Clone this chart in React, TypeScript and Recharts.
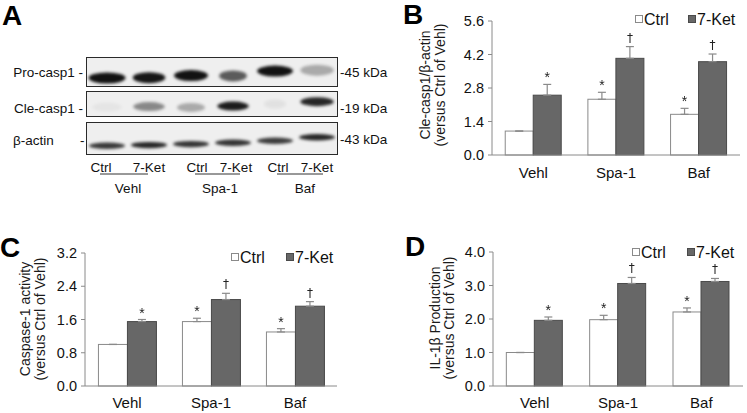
import React from 'react';
import { BarChart, Bar, XAxis, YAxis, ErrorBar } from 'recharts';

const FONT = '"Liberation Sans", Arial, Helvetica, sans-serif';
const MARK_FONT = '"DejaVu Sans", "Liberation Sans", sans-serif';
const AXIS = '#8a8a8a';
const CTRL_FILL = '#ffffff';
const CTRL_STROKE = '#8a8a8a';
const KET_FILL = '#676767';
const KET_STROKE = '#4a4a4a';

const groups = ['Vehl', 'Spa-1', 'Baf'];
const ctrlMarks = ['', '*', '*'];
const ketMarks = ['*', '†', '†'];

// B: Cle-casp1 / beta-actin
const bCtrl = [1.0, 2.33, 1.7];
const bCtrlErr = [0, 0.29, 0.25];
const bKet = [2.5, 4.04, 3.9];
const bKetErr = [0.45, 0.49, 0.32];
const bTicks = [0, 1.4, 2.8, 4.2, 5.6];

// C: caspase-1 activity
const cCtrl = [1.0, 1.55, 1.3];
const cCtrlErr = [0, 0.08, 0.08];
const cKet = [1.55, 2.08, 1.92];
const cKetErr = [0.05, 0.15, 0.11];
const cTicks = [0, 0.8, 1.6, 2.4, 3.2];

// D: IL-1beta production
const dCtrl = [1.0, 1.98, 2.21];
const dCtrlErr = [0, 0.13, 0.12];
const dKet = [1.96, 3.06, 3.12];
const dKetErr = [0.1, 0.18, 0.09];
const dTicks = [0, 1, 2, 3, 4];

// A: western blot lanes (level = band darkness, pos = band height within strip)
const lanes = ['Ctrl', '7-Ket', 'Ctrl', '7-Ket', 'Ctrl', '7-Ket'];
const proLevel = [0.97, 0.95, 0.97, 0.65, 0.97, 0.3];
const proPos = [0.3, 0.31, 0.38, 0.37, 0.53, 0.56];
const proSpread = [1.0, 0.88, 0.92, 0.75, 0.97, 0.9];
const cleLevel = [0.04, 0.45, 0.3, 0.92, 0.06, 0.88];
const clePos = [0.38, 0.4, 0.37, 0.42, 0.5, 0.59];
const cleSpread = [0.8, 0.85, 0.75, 0.85, 0.6, 0.9];
const actinLevel = [0.8, 0.88, 0.82, 0.82, 0.78, 0.88];
const actinPos = [0.28, 0.3, 0.33, 0.37, 0.43, 0.54];
const actinSpread = [0.97, 0.97, 0.97, 0.97, 0.97, 0.97];

const build = (ctrl: number[], ctrlErr: number[], ket: number[], ketErr: number[]) =>
  groups.map((g, i) => ({
    group: g,
    ctrl: ctrl[i],
    ctrlErr: [0, ctrlErr[i]],
    ket: ket[i],
    ketErr: [0, ketErr[i]],
    ctrlMark: ctrlMarks[i],
    ketMark: ketMarks[i],
  }));

const strip = (level: number[], pos: number[], spread: number[]) =>
  lanes.map((l, i) => ({ lane: l + i, level: level[i], pos: pos[i], spread: spread[i] }));

const barShape = (fill: string, stroke: string, valueKey: string, errKey: string, markKey: string) => (p: any) => {
  const { x, y, width, height, payload } = p;
  const v = payload[valueKey];
  const h = Math.abs(height);
  const errPx = v ? (payload[errKey][1] * h) / v : 0;
  const mark = payload[markKey];
  const top = y - errPx;
  return (
    <g>
      <rect x={x} y={y} width={width} height={h} fill={fill} stroke={stroke} strokeWidth={1} />
      {mark ? (
        <text
          x={x + width / 2}
          y={top - (mark === '*' ? 2 : 5)}
          textAnchor="middle"
          fontSize={mark === '*' ? 14 : 12}
          fill="#222"
          fontFamily={mark === '*' ? FONT : MARK_FONT}
          style={{ filter: 'grayscale(1)' }}
        >
          {mark}
        </text>
      ) : null}
    </g>
  );
};

const yLabel = (lines: string[], x1: number, x2: number, cy: number) => () => (
  <g fontFamily={FONT} fontSize={14} fill="#1a1a1a">
    <text transform={`translate(${x1},${cy}) rotate(-90)`} textAnchor="middle" dominantBaseline="central">{lines[0]}</text>
    <text transform={`translate(${x2},${cy}) rotate(-90)`} textAnchor="middle" dominantBaseline="central">{lines[1]}</text>
  </g>
);

interface PanelProps {
  data: any[];
  ticks: number[];
  left: number;
  top: number;
  width: number;
  height: number;
  margin: { top: number; right: number; bottom: number; left: number };
  yWidth: number;
  xHeight: number;
  tickMargin: number;
  label: () => React.ReactElement;
}

const Panel: React.FC<PanelProps> = ({ data, ticks, left, top, width, height, margin, yWidth, xHeight, tickMargin, label }) => (
  <div style={{ position: 'absolute', left, top }}>
    <BarChart width={width} height={height} data={data} margin={margin} barCategoryGap="16%" barGap={0}>
      <XAxis
        dataKey="group"
        axisLine={{ stroke: AXIS }}
        tickLine={false}
        tickMargin={tickMargin}
        height={xHeight}
        tick={{ fill: '#111', fontSize: 15, fontFamily: FONT }}
      />
      <YAxis
        domain={[0, ticks[ticks.length - 1]]}
        ticks={ticks}
        interval={0}
        width={yWidth}
        tickSize={4}
        tickMargin={4}
        axisLine={{ stroke: AXIS }}
        tickLine={{ stroke: AXIS }}
        tickFormatter={(v: number) => v.toFixed(1)}
        tick={{ fill: '#111', fontSize: 14.5, fontFamily: FONT }}
        label={label}
      />
      <Bar dataKey="ctrl" isAnimationActive={false} shape={barShape(CTRL_FILL, CTRL_STROKE, 'ctrl', 'ctrlErr', 'ctrlMark')}>
        <ErrorBar dataKey="ctrlErr" width={4} stroke={AXIS} strokeWidth={1.2} direction="y" />
      </Bar>
      <Bar dataKey="ket" isAnimationActive={false} shape={barShape(KET_FILL, KET_STROKE, 'ket', 'ketErr', 'ketMark')}>
        <ErrorBar dataKey="ketErr" width={4} stroke={AXIS} strokeWidth={1.2} direction="y" />
      </Bar>
    </BarChart>
  </div>
);

const bandShape = (thick: number) => (p: any) => {
  const { x, y, width, payload } = p;
  return (
    <ellipse
      cx={x + width / 2}
      cy={y}
      rx={(width / 2) * payload.spread}
      ry={thick}
      fill="#0a0a0a"
      fillOpacity={payload.level}
      style={{ filter: 'blur(1.5px)' }}
    />
  );
};

const BlotStrip: React.FC<{ data: any[]; left: number; top: number; width: number; height: number; thick: number }> = ({ data, left, top, width, height, thick }) => (
  <div style={{ position: 'absolute', left, top, width, height, background: '#efefef' }}>
    <BarChart width={width} height={height} data={data} margin={{ top: 0, right: 0, bottom: 0, left: 0 }} barCategoryGap="6%">
      <XAxis dataKey="lane" hide />
      <YAxis domain={[0, 1]} hide />
      <Bar dataKey="pos" isAnimationActive={false} shape={bandShape(thick)} />
    </BarChart>
    <div style={{ position: 'absolute', left: 0, top: 0, width, height, border: '1.5px solid #2a2a2a', boxSizing: 'border-box' }} />
  </div>
);

const Legend: React.FC<{ x: number; y: number; gap: number }> = ({ x, y, gap }) => (
  <g fontFamily={FONT} fontSize={16} fill="#111">
    <rect x={x + 0.5} y={y - 3.5} width={7} height={7} fill={CTRL_FILL} stroke={CTRL_STROKE} />
    <text x={x + 9} y={y} dominantBaseline="central">Ctrl</text>
    <rect x={x + gap + 0.5} y={y - 3.5} width={7} height={7} fill={KET_FILL} stroke={KET_STROKE} />
    <text x={x + gap + 9} y={y} dominantBaseline="central">7-Ket</text>
  </g>
);

export default function App() {
  const bData = build(bCtrl, bCtrlErr, bKet, bKetErr);
  const cData = build(cCtrl, cCtrlErr, cKet, cKetErr);
  const dData = build(dCtrl, dCtrlErr, dKet, dKetErr);
  return (
    <div style={{ position: 'absolute', left: 0, top: 0, width: 747, height: 413, background: '#fff', overflow: 'hidden', fontFamily: FONT }}>
      <BlotStrip data={strip(proLevel, proPos, proSpread)} left={86} top={57} width={252} height={30} thick={5.5} />
      <BlotStrip data={strip(cleLevel, clePos, cleSpread)} left={86} top={91} width={252} height={26} thick={4.5} />
      <BlotStrip data={strip(actinLevel, actinPos, actinSpread)} left={86} top={122} width={252} height={33} thick={3.2} />

      <Panel
        data={bData}
        ticks={bTicks}
        left={400}
        top={0}
        width={347}
        height={190}
        margin={{ top: 21, right: 7, bottom: 5, left: 0 }}
        yWidth={92}
        xHeight={30}
        tickMargin={6}
        label={yLabel(['Cle-casp1/β-actin', '(versus Ctrl of Vehl)'], 25, 40, 85)}
      />
      <Panel
        data={cData}
        ticks={cTicks}
        left={0}
        top={220}
        width={345}
        height={193}
        margin={{ top: 33, right: 8, bottom: 2, left: 0 }}
        yWidth={85}
        xHeight={25}
        tickMargin={5}
        label={yLabel(['Caspase-1 activity', '(versus Ctrl of Vehl)'], 25, 40, 99)}
      />
      <Panel
        data={dData}
        ticks={dTicks}
        left={400}
        top={220}
        width={347}
        height={193}
        margin={{ top: 32, right: 4, bottom: 2, left: 0 }}
        yWidth={93}
        xHeight={25}
        tickMargin={5}
        label={yLabel(['IL-1β Production', '(versus Ctrl of Vehl)'], 35, 49, 98)}
      />

      <svg width={747} height={413} style={{ position: 'absolute', left: 0, top: 0, pointerEvents: 'none' }}>
        <g fontFamily={FONT} fontWeight="bold" fontSize={28} fill="#000">
          <text x={2} y={25}>A</text>
          <text x={403} y={24}>B</text>
          <text x={0} y={257}>C</text>
          <text x={405} y={256}>D</text>
        </g>
        <g fontFamily={FONT} fontSize={13.5} fill="#111">
          <text x={83} y={72} textAnchor="end" dominantBaseline="central">Pro-casp1 -</text>
          <text x={83} y={108} textAnchor="end" dominantBaseline="central">Cle-casp1 -</text>
          <text x={13} y={140} dominantBaseline="central">β-actin</text>
          <text x={80} y={140} dominantBaseline="central">-</text>
          <text x={340} y={72} dominantBaseline="central">-45 kDa</text>
          <text x={340} y={108} dominantBaseline="central">-19 kDa</text>
          <text x={340} y={139} dominantBaseline="central">-43 kDa</text>
        </g>
        <g fontFamily={FONT} fontSize={13.5} fill="#111" textAnchor="middle">
          <text x={101} y={167} dominantBaseline="central">Ctrl</text>
          <text x={149} y={167} dominantBaseline="central">7-Ket</text>
          <text x={197} y={167} dominantBaseline="central">Ctrl</text>
          <text x={236} y={167} dominantBaseline="central">7-Ket</text>
          <text x={278} y={167} dominantBaseline="central">Ctrl</text>
          <text x={317} y={167} dominantBaseline="central">7-Ket</text>
          <text x={128} y={188} dominantBaseline="central">Vehl</text>
          <text x={220} y={188} dominantBaseline="central">Spa-1</text>
          <text x={305} y={188} dominantBaseline="central">Baf</text>
        </g>
        <g stroke="#333" strokeWidth={1}>
          <line x1={100} y1={174} x2={148} y2={174} />
          <line x1={195} y1={174} x2={240} y2={174} />
          <line x1={277} y1={174} x2={323} y2={174} />
        </g>
        <Legend x={635} y={19} gap={53} />
        <Legend x={231} y={257} gap={55} />
        <Legend x={632} y={252} gap={55} />
      </svg>
    </div>
  );
}
